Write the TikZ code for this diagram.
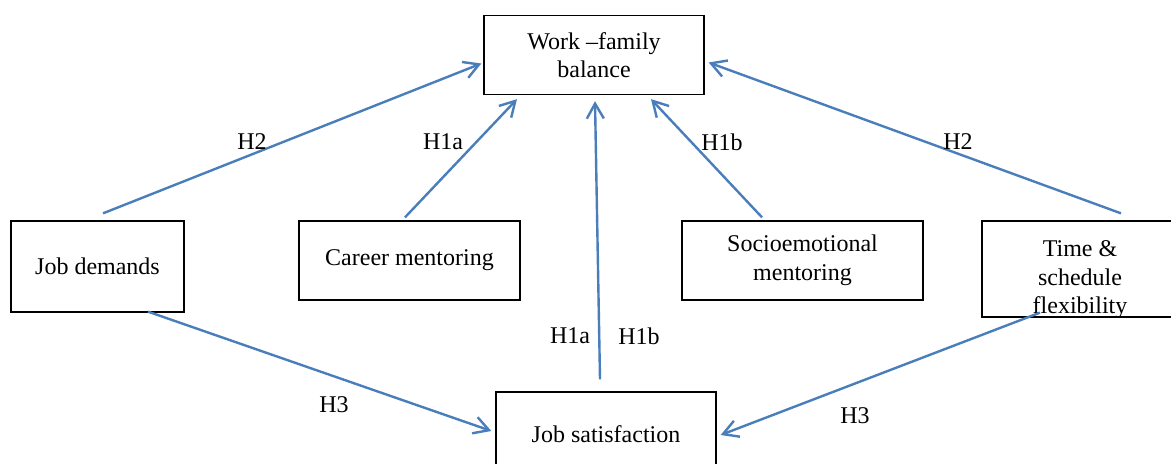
\documentclass[tikz,border=0pt]{standalone}
\usepackage{fontspec}
\setmainfont{Liberation Serif}
\usetikzlibrary{arrows.meta,calc}
\definecolor{arrowblue}{RGB}{74,126,187}
\begin{document}
\begin{tikzpicture}[x=0.5pt,y=-0.5pt,
  box/.style={draw=black,line width=0.65pt,fill=white,inner sep=0pt,align=center,
    font=\fontsize{12}{14.3}\selectfont},
  txt/.style={inner sep=0pt,align=center,font=\fontsize{12}{14.3}\selectfont},
  lab/.style={inner sep=0pt,font=\fontsize{12}{14}\selectfont},
  link/.style={draw=arrowblue,line width=1.2pt,-{Straight Barb[length=7.5pt,width=8.5pt,line width=1.2pt]}}]
\useasboundingbox[fill=white] (0,0) rectangle (1171,464);
% boxes
\node[box,minimum width=110pt,minimum height=39.5pt] (wfb) at (594,55) {Work \textendash family\\balance};
\node[box,minimum width=86.5pt,minimum height=45.5pt] (jd) at (97.5,266.5) {Job demands};
\node[box,minimum width=110.5pt,minimum height=39.5pt] (cm) at (409.5,260.5) {Career mentoring};
\node[box,minimum width=120.5pt,minimum height=39.5pt] (sm) at (802.5,260.5) {Socioemotional\\mentoring};
\node[box,minimum width=100pt,minimum height=48pt] (tsf) at (1082,269) {};
\begin{scope}
\clip (tsf.south west) rectangle (tsf.north east);
\node[txt] (tsftext) at (1080,280) {Time \&\\schedule\\flexibility};
\end{scope}
\node[box,minimum width=110pt,minimum height=42pt] (js) at (606,434) {Job satisfaction};
% arrows
\draw[link] ($(jd.north)+(5.5,-7)$) -- ($(wfb.west)+(-2,8.5)$);
\draw[link] ($(cm.north)+(-4.5,-3)$) -- ($(wfb.south)+(-77,4)$);
\draw[link] ($(js.north)+(-6,-12)$) -- ($(wfb.south)+(1,6)$);
\draw[link] ($(sm.north)+(-40.5,-3)$) -- ($(wfb.south)+(57,4)$);
\draw[link] ($(tsf.north)+(39,-7)$) -- ($(wfb.east)+(4,7.5)$);
\draw[link] ($(jd.south)+(50.5,-1)$) -- ($(js.west)+(-4,-3)$);
\draw[link] ($(tsf.south)+(-42,-5)$) -- ($(js.east)+(4,1)$);
% labels
\node[lab] (l1) at (252,142) {H2};
\node[lab] (l2) at (443,142) {H1a};
\node[lab] (l3) at (722,142) {H1b};
\node[lab] (l4) at (958,142) {H2};
\node[lab] (l5) at (570,336) {H1a};
\node[lab] (l6) at (639,336) {H1b};
\node[lab] (l7) at (334,405) {H3};
\node[lab] (l8) at (855,416) {H3};
\end{tikzpicture}
\end{document}
